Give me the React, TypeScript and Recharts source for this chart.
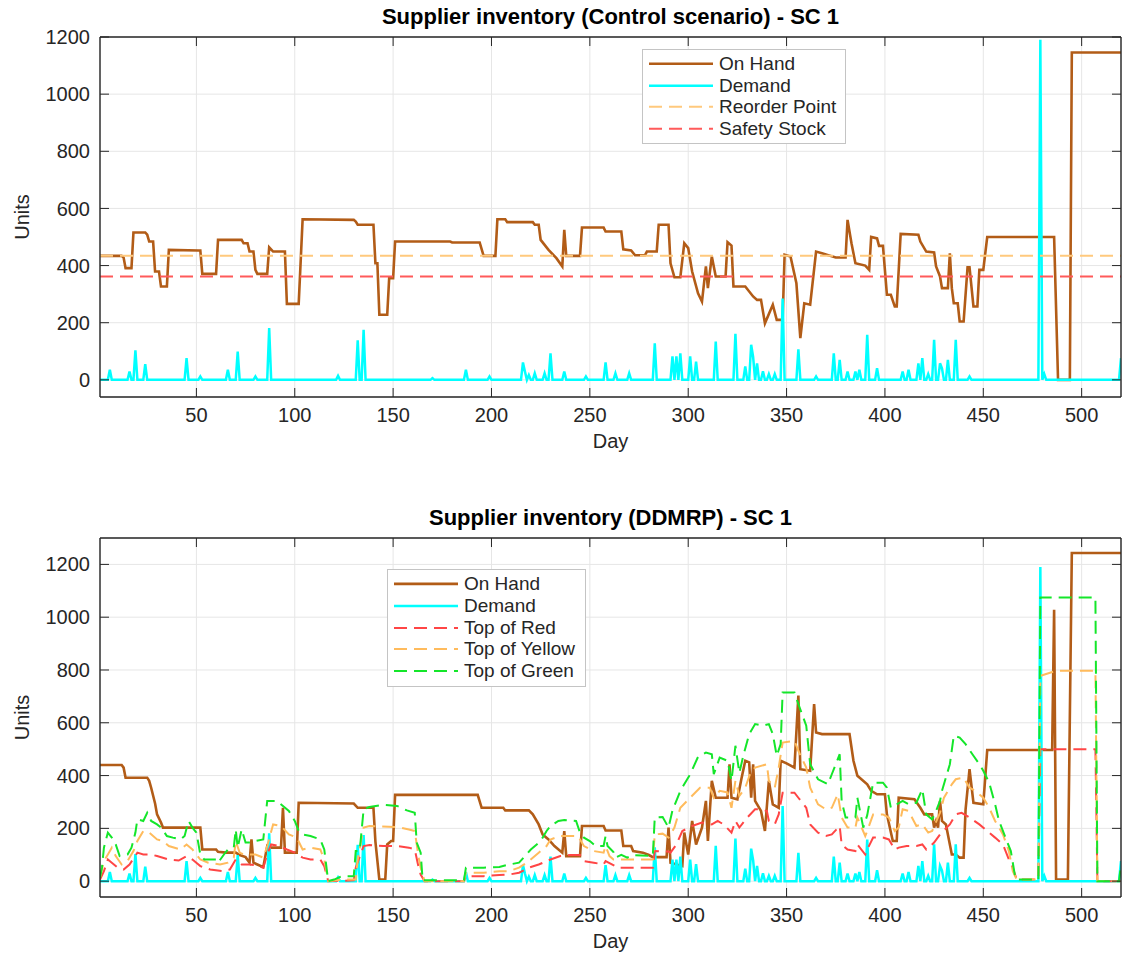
import React from "react";
import { LineChart, Line, XAxis, YAxis, CartesianGrid } from "recharts";

type Pt = [number, number];

const FIRST_DAY = 1;
const LAST_DAY = 520;
const DAY_TICKS = [50, 100, 150, 200, 250, 300, 350, 400, 450, 500];
const UNIT_TICKS = [0, 200, 400, 600, 800, 1000, 1200];

// ---- Control scenario ----
const controlOnHand: Pt[] = [
  [1, 434], [12, 434], [13, 428], [14, 391], [17, 391], [18, 516], [24, 516], [25, 508], [26, 484], [28, 484],
  [29, 379], [31, 379], [32, 327], [35, 327], [36, 455], [51, 453], [52, 453], [53, 371], [60, 371], [61, 490],
  [73, 490], [74, 478], [76, 478], [77, 449], [79, 449], [80, 385], [81, 371], [86, 371], [87, 464], [89, 449],
  [95, 449], [96, 266], [102, 266], [104, 562], [130, 560], [131, 554], [132, 543], [140, 543], [141, 408], [142, 408],
  [143, 228], [147, 228], [148, 356], [150, 356], [151, 484], [179, 484], [180, 481], [194, 481], [196, 434], [202, 434],
  [203, 562], [207, 562], [208, 552], [221, 552], [222, 543], [224, 543], [225, 490], [229, 455], [233, 426], [236, 397],
  [237, 525], [238, 434], [245, 434], [246, 533], [257, 533], [258, 519], [266, 519], [267, 457], [271, 453], [273, 436],
  [278, 436], [279, 449], [284, 449], [285, 543], [290, 543], [291, 408], [293, 359], [296, 359], [298, 478], [300, 461],
  [302, 379], [305, 303], [307, 274], [309, 397], [310, 321], [312, 432], [314, 362], [319, 362], [320, 482], [322, 470],
  [323, 327], [329, 327], [333, 292], [335, 280], [337, 280], [339, 198], [343, 263], [345, 210], [348, 210], [349, 438],
  [352, 432], [355, 338], [357, 146], [359, 268], [362, 263], [365, 449], [368, 443], [375, 428], [380, 428], [381, 560],
  [383, 478], [385, 408], [390, 400], [392, 385], [393, 500], [396, 495], [397, 469], [399, 469], [401, 298], [403, 298],
  [405, 257], [406, 257], [408, 511], [417, 508], [418, 484], [421, 449], [425, 446], [426, 397], [428, 362], [429, 321],
  [432, 321], [433, 443], [434, 321], [435, 268], [437, 268], [438, 204], [440, 204], [442, 394], [443, 394], [445, 257],
  [447, 257], [448, 385], [450, 385], [452, 500], [486, 500], [488, 0], [494, 0], [495, 1146], [520, 1146],
];

const demandSpikes: Pt[] = [
  [6, 35], [16, 29], [19, 103], [24, 55], [45, 76], [52, 12], [66, 35], [71, 99], [80, 12], [87, 181],
  [122, 14], [132, 138], [135, 175], [170, 6], [187, 35], [199, 12], [216, 61], [217, 29], [219, 17], [222, 23],
  [227, 23], [230, 93], [237, 29], [248, 12], [258, 61], [263, 23], [270, 23], [283, 128], [292, 82], [294, 82],
  [296, 93], [301, 82], [304, 64], [314, 134], [324, 161], [329, 47], [332, 123], [333, 80], [335, 58], [338, 30],
  [341, 20], [344, 20], [348, 285], [356, 107], [365, 12], [374, 93], [377, 70], [381, 29], [385, 29], [387, 35],
  [391, 158], [396, 41], [409, 29], [412, 35], [417, 58], [419, 76], [422, 20], [425, 140], [428, 58], [429, 40],
  [432, 70], [436, 140], [443, 12], [479, 1190], [481, 20], [520, 76],
];

const reorderPoint = 434;
const safetyStock = 362;

// ---- DDMRP scenario ----
const ddmrpOnHand: Pt[] = [
  [1, 440], [12, 440], [13, 430], [14, 392], [25, 392], [26, 380], [27, 354], [29, 294], [30, 253], [32, 222],
  [33, 203], [52, 203], [53, 120], [60, 120], [61, 111], [65, 108], [70, 108], [72, 99], [75, 91], [77, 70],
  [78, 158], [79, 70], [81, 63], [84, 53], [86, 133], [87, 127], [93, 127], [94, 278], [95, 108], [101, 108],
  [102, 297], [130, 294], [132, 278], [140, 278], [141, 150], [143, 6], [146, 6], [147, 139], [149, 152], [150, 152],
  [151, 327], [193, 327], [195, 278], [206, 278], [207, 268], [219, 268], [221, 253], [224, 215], [226, 177], [229, 158],
  [232, 133], [236, 108], [237, 190], [238, 95], [245, 95], [246, 209], [257, 209], [258, 192], [266, 192], [267, 133],
  [271, 133], [272, 114], [277, 108], [280, 99], [282, 91], [289, 91], [290, 203], [291, 70], [295, 61], [297, 57],
  [298, 184], [300, 101], [302, 228], [304, 139], [307, 203], [309, 304], [310, 152], [312, 380], [314, 316], [320, 316],
  [321, 443], [322, 316], [325, 310], [327, 386], [329, 456], [331, 450], [332, 316], [333, 443], [334, 304], [337, 266],
  [339, 190], [341, 380], [343, 291], [346, 278], [347, 456], [350, 446], [354, 430], [356, 703], [357, 424], [362, 418],
  [364, 671], [365, 563], [368, 557], [382, 557], [384, 456], [386, 399], [391, 367], [393, 342], [396, 329], [400, 329],
  [401, 253], [404, 152], [406, 152], [407, 316], [415, 310], [418, 278], [420, 253], [424, 253], [425, 203], [426, 228],
  [427, 203], [428, 304], [429, 228], [431, 215], [434, 101], [436, 101], [438, 89], [440, 89], [441, 272], [443, 424],
  [445, 297], [450, 291], [452, 497], [485, 497], [486, 1028], [487, 6], [493, 6], [495, 1243], [520, 1243],
];

const topOfRed: Pt[] = [
  [1, 6], [3, 38], [5, 82], [7, 70], [10, 51], [13, 44], [16, 63], [20, 108], [23, 101], [27, 101],
  [30, 95], [36, 82], [41, 78], [45, 95], [48, 82], [52, 57], [57, 44], [63, 38], [67, 44], [70, 82],
  [73, 63], [77, 63], [80, 61], [84, 51], [86, 101], [88, 139], [92, 133], [96, 120], [100, 108], [104, 89],
  [108, 82], [113, 82], [115, 57], [117, 0], [130, 3], [131, 51], [135, 133], [138, 137], [145, 133], [152, 133],
  [158, 127], [161, 120], [163, 51], [164, 25], [166, 0], [186, 0], [187, 19], [196, 19], [204, 23], [209, 25],
  [214, 32], [219, 51], [224, 63], [230, 82], [235, 95], [240, 99], [245, 99], [247, 76], [252, 70], [257, 63],
  [258, 76], [263, 57], [264, 51], [282, 51], [283, 114], [290, 112], [291, 108], [294, 139], [297, 190], [302, 209],
  [307, 222], [312, 215], [315, 228], [318, 215], [322, 184], [324, 228], [326, 203], [330, 241], [334, 272], [337, 272],
  [340, 266], [341, 228], [344, 215], [346, 253], [348, 335], [354, 335], [356, 316], [360, 278], [362, 215], [366, 184],
  [370, 171], [373, 177], [377, 209], [378, 139], [381, 120], [385, 114], [386, 139], [390, 101], [391, 120], [394, 165],
  [399, 165], [402, 158], [405, 120], [407, 127], [411, 133], [416, 133], [419, 139], [421, 120], [425, 146], [428, 177],
  [433, 215], [436, 253], [439, 259], [443, 241], [448, 215], [451, 196], [456, 165], [460, 139], [463, 82], [465, 51],
  [467, 6], [478, 6], [479, 500], [507, 500], [508, 0], [520, 0],
];

const topOfYellow: Pt[] = [
  [1, 13], [3, 76], [5, 101], [7, 127], [9, 95], [12, 63], [15, 76], [18, 114], [20, 152], [23, 190],
  [26, 184], [30, 158], [33, 152], [36, 133], [42, 120], [45, 139], [48, 120], [52, 82], [56, 70], [62, 63],
  [66, 70], [69, 89], [70, 152], [72, 108], [74, 101], [80, 101], [84, 89], [86, 133], [89, 215], [93, 209],
  [97, 177], [101, 165], [104, 120], [108, 127], [113, 120], [115, 82], [117, 0], [124, 6], [131, 6], [132, 82],
  [135, 203], [138, 209], [152, 205], [158, 196], [161, 190], [163, 89], [164, 51], [166, 0], [186, 0], [187, 32],
  [196, 32], [204, 38], [209, 38], [214, 51], [218, 70], [221, 89], [224, 108], [228, 133], [230, 158], [235, 171],
  [244, 171], [247, 133], [252, 114], [257, 108], [258, 133], [260, 95], [262, 82], [282, 82], [283, 177], [287, 180],
  [290, 165], [293, 203], [296, 278], [301, 316], [306, 354], [311, 354], [313, 316], [316, 342], [320, 336], [322, 278],
  [324, 380], [326, 323], [329, 354], [332, 418], [334, 430], [340, 443], [341, 380], [344, 354], [346, 430], [348, 525],
  [354, 532], [356, 494], [360, 430], [362, 354], [366, 291], [370, 272], [373, 278], [376, 329], [378, 241], [381, 203],
  [385, 203], [386, 241], [390, 171], [391, 190], [394, 253], [399, 253], [402, 241], [405, 190], [407, 203], [409, 272],
  [412, 266], [416, 209], [419, 215], [422, 184], [424, 190], [428, 259], [430, 316], [434, 367], [436, 386], [440, 392],
  [443, 354], [446, 342], [450, 316], [453, 278], [456, 228], [460, 177], [463, 114], [465, 38], [467, 6], [478, 6],
  [479, 778], [487, 797], [507, 797], [508, 0], [520, 0],
];

const topOfGreen: Pt[] = [
  [1, 13], [2, 51], [3, 127], [5, 184], [7, 165], [9, 139], [11, 95], [15, 101], [17, 127], [19, 184],
  [20, 234], [23, 228], [25, 259], [27, 228], [30, 215], [32, 203], [35, 171], [38, 165], [42, 158], [44, 171],
  [46, 228], [48, 203], [50, 184], [52, 101], [54, 82], [60, 82], [61, 70], [64, 101], [66, 120], [69, 127],
  [70, 196], [71, 127], [73, 196], [75, 146], [78, 146], [80, 152], [84, 158], [86, 304], [91, 304], [94, 285],
  [97, 266], [100, 228], [102, 190], [104, 177], [108, 171], [113, 158], [115, 120], [117, 0], [120, 6], [124, 19],
  [130, 19], [131, 114], [133, 114], [135, 272], [138, 281], [145, 289], [152, 285], [157, 268], [161, 259], [162, 146],
  [164, 108], [165, 3], [186, 3], [187, 51], [196, 51], [204, 54], [209, 63], [214, 70], [217, 95], [220, 120],
  [223, 139], [225, 152], [228, 190], [230, 209], [234, 228], [237, 232], [243, 228], [245, 184], [247, 165], [250, 152],
  [253, 133], [257, 133], [258, 171], [259, 133], [262, 110], [263, 89], [266, 100], [269, 89], [272, 99], [282, 95],
  [283, 241], [287, 243], [290, 203], [292, 268], [296, 342], [301, 405], [305, 471], [309, 487], [312, 481], [313, 405],
  [316, 468], [320, 456], [322, 380], [324, 513], [326, 410], [328, 475], [331, 557], [334, 595], [338, 589], [341, 595],
  [343, 557], [345, 475], [347, 519], [348, 715], [354, 715], [356, 671], [360, 589], [362, 443], [366, 386], [371, 367],
  [373, 405], [377, 481], [378, 304], [380, 241], [385, 241], [386, 316], [389, 203], [391, 250], [394, 373], [399, 373],
  [401, 354], [403, 278], [406, 291], [409, 304], [412, 291], [416, 297], [419, 348], [421, 253], [424, 234], [426, 266],
  [428, 304], [429, 342], [433, 443], [435, 551], [438, 544], [441, 519], [445, 475], [448, 443], [450, 418], [453, 373],
  [456, 291], [458, 228], [461, 171], [464, 114], [466, 25], [467, 6], [478, 6], [479, 1075], [507, 1075], [508, 0],
  [519, 0], [520, 63],
];

const FONT = "'Liberation Sans', Arial, Helvetica, sans-serif";
const INK = "#262626";
const C_ONHAND = "#b25c17";
const C_DEMAND = "#00ffff";
const C_REORDER = "#ffc97d";
const C_SAFETY = "#ff5a5a";
const C_RED = "#ff4545";
const C_YELLOW = "#ffbb5c";
const C_GREEN = "#14e62a";
const DASH = "13 7";

const toRows = (pts: Pt[]) => pts.map(([day, units]) => ({ day, units }));

// daily demand: zero on days without a spike
function demandRows(spikes: Pt[]) {
  const byDay = new Map<number, number>(spikes);
  const days = new Set<number>([FIRST_DAY, LAST_DAY]);
  spikes.forEach(([d]) => {
    [d - 1, d, d + 1].forEach((x) => {
      if (x >= FIRST_DAY && x <= LAST_DAY) days.add(x);
    });
  });
  return [...days].sort((a, b) => a - b).map((day) => ({ day, units: byDay.get(day) ?? 0 }));
}

const flatRows = (v: number) => [{ day: FIRST_DAY, units: v }, { day: LAST_DAY, units: v }];

interface Series {
  name: string;
  rows: { day: number; units: number }[];
  color: string;
  width: number;
  dashed?: boolean;
}

const controlSeries: Series[] = [
  { name: "On Hand", rows: toRows(controlOnHand), color: C_ONHAND, width: 2.6 },
  { name: "Demand", rows: demandRows(demandSpikes), color: C_DEMAND, width: 2.5 },
  { name: "Reorder Point", rows: flatRows(reorderPoint), color: C_REORDER, width: 2, dashed: true },
  { name: "Safety Stock", rows: flatRows(safetyStock), color: C_SAFETY, width: 2, dashed: true },
];

const ddmrpSeries: Series[] = [
  { name: "On Hand", rows: toRows(ddmrpOnHand), color: C_ONHAND, width: 2.6 },
  { name: "Demand", rows: demandRows(demandSpikes), color: C_DEMAND, width: 2.5 },
  { name: "Top of Red", rows: toRows(topOfRed), color: C_RED, width: 2, dashed: true },
  { name: "Top of Yellow", rows: toRows(topOfYellow), color: C_YELLOW, width: 2, dashed: true },
  { name: "Top of Green", rows: toRows(topOfGreen), color: C_GREEN, width: 2, dashed: true },
];

const tickText = { fill: INK, fontSize: 20, fontFamily: FONT };
const noLabel = () => <g />;

function LegendBox({ series, left, top, width, rowH }: { series: Series[]; left: number; top: number; width: number; rowH: number }) {
  return (
    <div
      style={{
        position: "absolute", left, top, width, padding: "3px 0 4px",
        background: "#fff", border: "1.5px solid #c4c4c4", fontFamily: FONT, fontSize: 19, color: INK,
      }}
    >
      {series.map((s) => (
        <div key={s.name} style={{ display: "flex", alignItems: "center", height: rowH }}>
          <svg width={76} height={rowH} style={{ flex: "none" }}>
            <line x1={6} x2={70} y1={rowH / 2} y2={rowH / 2} stroke={s.color} strokeWidth={s.width}
              strokeDasharray={s.dashed ? DASH : undefined} />
          </svg>
          <span style={{ whiteSpace: "nowrap", lineHeight: `${rowH}px` }}>{s.name}</span>
        </div>
      ))}
    </div>
  );
}

interface PanelProps {
  title: string;
  series: Series[];
  top: number;
  height: number;
  plotTop: number;
  xAxisHeight: number;
  yMin: number;
  yMax: number;
  legend: { left: number; top: number; width: number; rowH: number };
}

function Panel({ title, series, top, height, plotTop, xAxisHeight, yMin, yMax, legend }: PanelProps) {
  const xDomain = [FIRST_DAY, LAST_DAY];
  const yDomain = [yMin, yMax];
  return (
    <div style={{ position: "absolute", left: 0, top, width: 1124, height }}>
      <div
        style={{
          position: "absolute", left: 100, width: 1021, top: plotTop - 33, textAlign: "center",
          fontFamily: FONT, fontWeight: "bold", fontSize: 22, color: "#000",
        }}
      >
        {title}
      </div>
      <LineChart width={1124} height={height} margin={{ top: plotTop - 1, right: 2, bottom: 0, left: 0 }}>
        <CartesianGrid stroke="#e6e6e6" strokeWidth={1} />
        <XAxis
          dataKey="day" type="number" domain={xDomain} ticks={DAY_TICKS} allowDataOverflow interval={0}
          height={xAxisHeight} tickSize={-9} tickMargin={20} stroke={INK} tick={tickText}
          axisLine={{ stroke: INK, strokeWidth: 1.4 }}
          label={{
            content: (p: any) => {
              const vb = p.viewBox || { x: 100, y: 0, width: 1021 };
              return (
                <text x={vb.x + vb.width / 2} y={vb.y + 44} textAnchor="middle" dominantBaseline="central"
                  fill={INK} fontSize={20} fontFamily={FONT}>Day</text>
              );
            },
          }}
        />
        <XAxis
          xAxisId="top" orientation="top" dataKey="day" type="number" domain={xDomain} ticks={DAY_TICKS}
          allowDataOverflow interval={0} height={1} tickSize={-9} stroke={INK} tick={noLabel}
          axisLine={{ stroke: INK, strokeWidth: 1.4 }}
        />
        <YAxis
          type="number" domain={yDomain} ticks={UNIT_TICKS} allowDataOverflow interval={0} width={100}
          tickSize={-9} tickMargin={19} stroke={INK} tick={tickText}
          axisLine={{ stroke: INK, strokeWidth: 1.4 }}
          label={{
            content: (p: any) => {
              const vb = p.viewBox || { x: 0, y: plotTop, height: 360 };
              const cx = vb.x + 22;
              const cy = vb.y + vb.height / 2;
              return (
                <text x={cx} y={cy} transform={`rotate(-90 ${cx} ${cy})`} textAnchor="middle"
                  dominantBaseline="central" fill={INK} fontSize={20} fontFamily={FONT}>Units</text>
              );
            },
          }}
        />
        <YAxis
          yAxisId="right" orientation="right" type="number" domain={yDomain} ticks={UNIT_TICKS}
          allowDataOverflow interval={0} width={1} tickSize={-9} stroke={INK} tick={noLabel}
          axisLine={{ stroke: INK, strokeWidth: 1.4 }}
        />
        {series.map((s) => (
          <Line
            key={s.name} name={s.name} data={s.rows} dataKey="units" type="linear" stroke={s.color}
            strokeWidth={s.width} strokeDasharray={s.dashed ? DASH : undefined} dot={false}
            activeDot={false} isAnimationActive={false}
          />
        ))}
      </LineChart>
      <LegendBox series={series} {...legend} />
    </div>
  );
}

export default function App() {
  return (
    <div style={{ position: "absolute", left: 0, top: 0, width: 1124, height: 958, background: "#fff", overflow: "hidden" }}>
      <Panel
        title="Supplier inventory (Control scenario) - SC 1"
        series={controlSeries}
        top={0}
        height={470}
        plotTop={37}
        xAxisHeight={73}
        yMin={-60}
        yMax={1200}
        legend={{ left: 642, top: 49, width: 202, rowH: 21.5 }}
      />
      <Panel
        title="Supplier inventory (DDMRP) - SC 1"
        series={ddmrpSeries}
        top={470}
        height={488}
        plotTop={68}
        xAxisHeight={61}
        yMin={-60}
        yMax={1300}
        legend={{ left: 387, top: 99, width: 197, rowH: 21.8 }}
      />
    </div>
  );
}
